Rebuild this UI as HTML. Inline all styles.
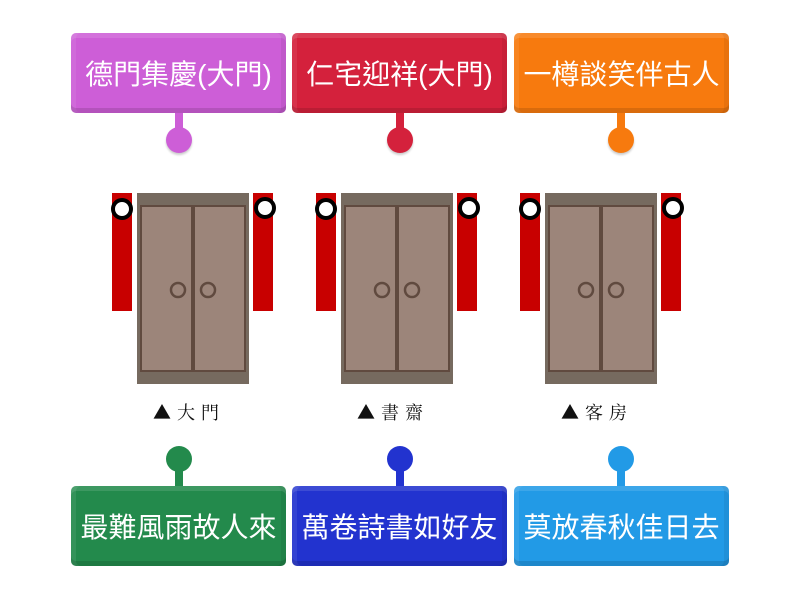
<!DOCTYPE html>
<html><head><meta charset="utf-8"><style>
body{margin:0;width:800px;height:600px;background:#fff;position:relative;overflow:hidden;font-family:"Liberation Sans","Noto Sans CJK TC",sans-serif}
.b{position:absolute;width:215px;height:80px;border-radius:5px;color:#fff;font-size:28px;display:flex;align-items:center;justify-content:center;box-shadow:inset 0 -5px 0 rgba(0,0,0,.12),inset 0 5px 0 rgba(255,255,255,.12),inset 5px 0 0 rgba(255,255,255,.08),inset -5px 0 0 rgba(0,0,0,.06);letter-spacing:0}
.c{position:absolute;width:26px;height:26px;border-radius:50%}
.s{position:absolute;width:8px;height:16px}
.lab{position:absolute;font-family:"Noto Serif CJK SC","Liberation Serif",serif;font-size:18px;letter-spacing:6px;color:#111}
</style></head><body>
<div class="b" style="left:71px;top:33px;background:#cd5ed7">德門集慶(大門)</div>
<div class="b" style="left:292px;top:33px;background:#d4213c">仁宅迎祥(大門)</div>
<div class="b" style="left:514px;top:33px;background:#f77a0e">一樽談笑伴古人</div>
<div class="s" style="left:175px;top:113px;background:#cd5ed7"></div><div class="c" style="left:166px;top:127px;background:#cd5ed7;box-shadow:0 2px 2px #ccc"></div>
<div class="s" style="left:396px;top:113px;background:#d4213c"></div><div class="c" style="left:387px;top:127px;background:#d4213c;box-shadow:0 2px 2px #ccc"></div>
<div class="s" style="left:617px;top:113px;background:#f77a0e"></div><div class="c" style="left:608px;top:127px;background:#f77a0e;box-shadow:0 2px 2px #ccc"></div>

<svg width="800" height="600" style="position:absolute;left:0;top:0">
<defs><g id="d">
<rect x="112" y="193" width="20" height="118" fill="#c80000"/>
<rect x="253" y="193" width="20" height="118" fill="#c80000"/>
<rect x="137" y="193" width="112" height="191" fill="#766a5f"/>
<rect x="140" y="205" width="106" height="167" fill="#604a3f"/>
<rect x="142" y="207" width="49" height="163" fill="#9c857a"/>
<rect x="195" y="207" width="49" height="163" fill="#9c857a"/>
<circle cx="178" cy="290" r="7" fill="none" stroke="#604a3f" stroke-width="2.5"/>
<circle cx="208" cy="290" r="7" fill="none" stroke="#604a3f" stroke-width="2.5"/>
<circle cx="122" cy="209" r="9" fill="#fff" stroke="#000" stroke-width="4"/>
<circle cx="265" cy="208" r="9" fill="#fff" stroke="#000" stroke-width="4"/>
</g></defs>
<use href="#d"/>
<use href="#d" x="204"/>
<use href="#d" x="408"/>
</svg>
<div class="lab" style="left:153px;top:399px">▲大門</div>
<div class="lab" style="left:357px;top:399px">▲書齋</div>
<div class="lab" style="left:561px;top:399px">▲客房</div>

<div class="c" style="left:166px;top:446px;background:#238a4c"></div><div class="s" style="left:175px;top:470px;background:#238a4c"></div>
<div class="c" style="left:387px;top:446px;background:#2233cf"></div><div class="s" style="left:396px;top:470px;background:#2233cf"></div>
<div class="c" style="left:608px;top:446px;background:#229ae6"></div><div class="s" style="left:617px;top:470px;background:#229ae6"></div>
<div class="b" style="left:71px;top:486px;background:#238a4c">最難風雨故人來</div>
<div class="b" style="left:292px;top:486px;background:#2233cf">萬卷詩書如好友</div>
<div class="b" style="left:514px;top:486px;background:#229ae6">莫放春秋佳日去</div>
</body></html>
